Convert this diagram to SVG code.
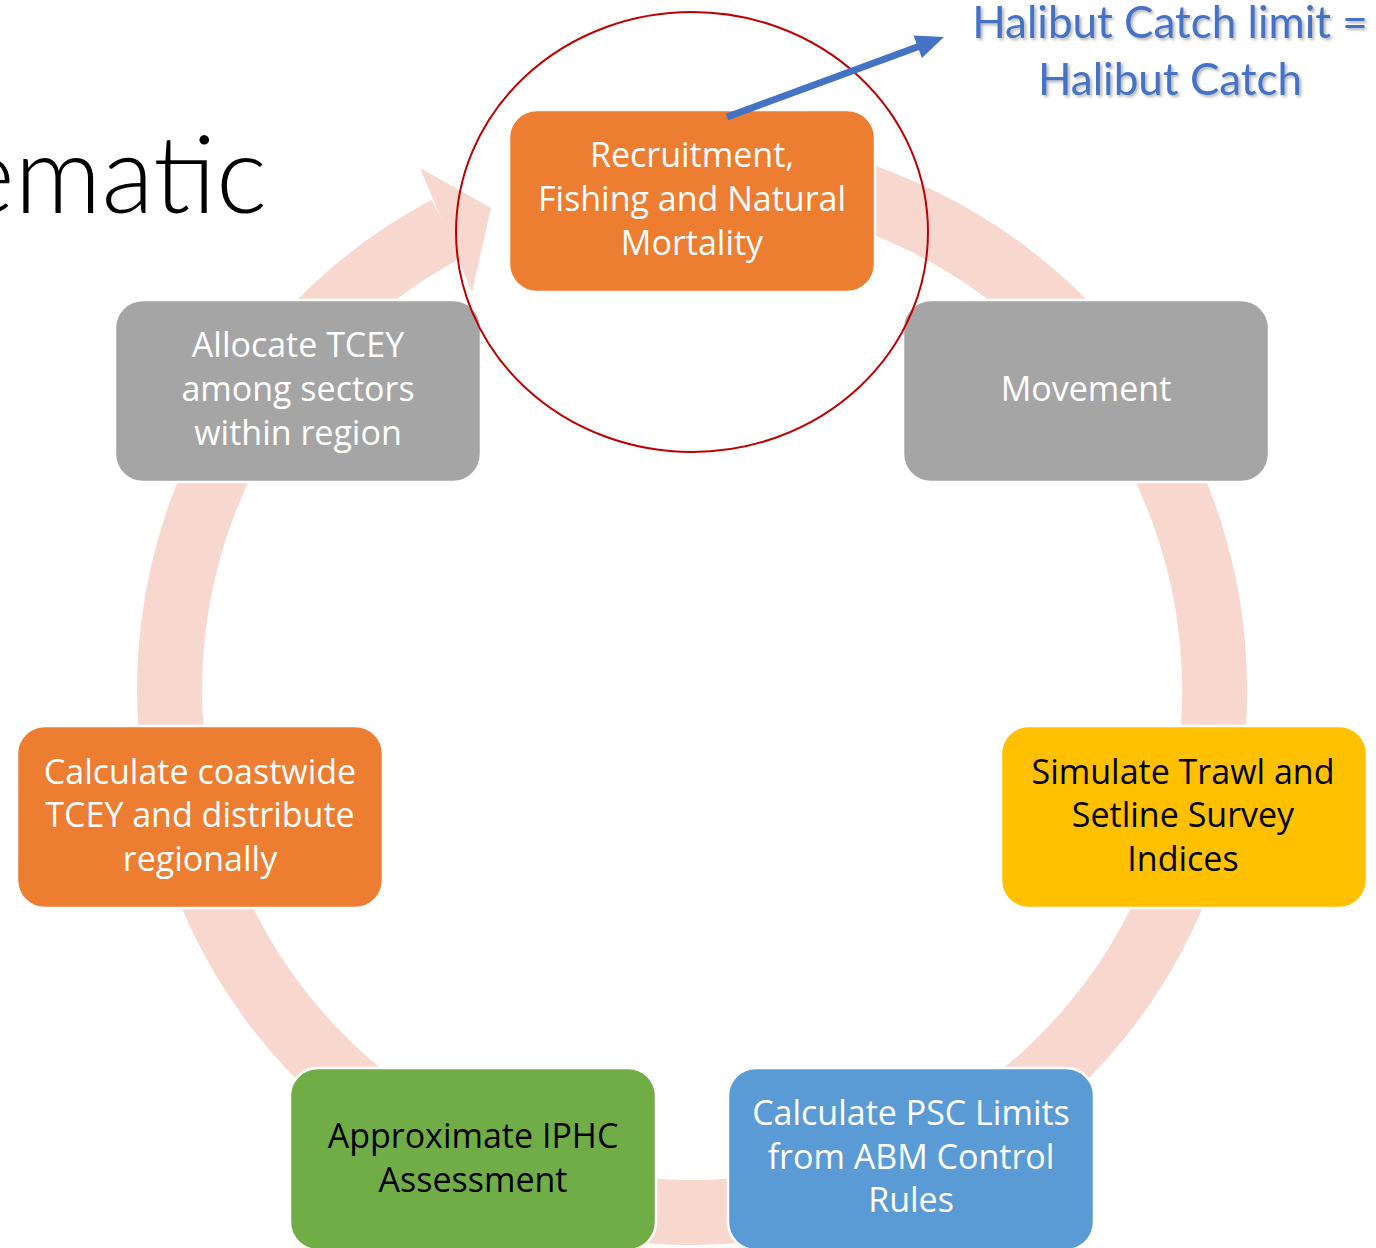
<svg xmlns="http://www.w3.org/2000/svg" width="1376" height="1248" viewBox="0 0 1376 1248">
<defs>
<style>
.node{stroke:#ffffff;stroke-width:2.5}
.t{font-family:"Open Sans","Noto Sans","Liberation Sans",sans-serif;font-size:34px;text-anchor:middle}
.w{fill:#ffffff}
.k{fill:#000000}
.callout{font-family:Lato,"Open Sans","Liberation Sans",sans-serif;font-size:44px;fill:#4472C4;text-anchor:middle}
</style>
<filter id="sh" x="-10%" y="-30%" width="120%" height="160%">
<feDropShadow dx="2" dy="2" stdDeviation="1.5" flood-color="#000" flood-opacity="0.3"/>
</filter>
</defs>
<rect width="1376" height="1248" fill="#ffffff"/>
<text x="267" y="213" font-family="Lato,'Open Sans','Liberation Sans',sans-serif" font-weight="300" font-size="108" text-anchor="end" fill="#000">ematic</text>
<g id="connectors">
<path d="M 692 167.5 A 522.5 522.5 0 1 1 446.7 228.7" fill="none" stroke="#F8D8CE" stroke-width="65"/>
<polygon points="420,168 491,208 472,292" fill="#F8D8CE"/>
</g>
<g id="node-recruitment">
<rect class="node" x="509" y="110" width="366" height="182" rx="28" fill="#ED7D31"/>
<text class="t w" x="692" y="167">Recruitment,</text>
<text class="t w" x="692" y="211">Fishing and Natural</text>
<text class="t w" x="692" y="255">Mortality</text>
</g>
<g id="node-movement">
<rect class="node" x="903" y="300" width="366" height="182" rx="28" fill="#A5A5A5"/>
<text class="t w" x="1086" y="401">Movement</text>
</g>
<g id="node-simulate">
<rect class="node" x="1001" y="726" width="366" height="182" rx="28" fill="#FFC000"/>
<text class="t k" x="1183" y="784">Simulate Trawl and</text>
<text class="t k" x="1183" y="827">Setline Survey</text>
<text class="t k" x="1183" y="871">Indices</text>
</g>
<g id="node-psc">
<rect class="node" x="728" y="1068" width="366" height="182" rx="28" fill="#5B9BD5"/>
<text class="t w" x="911" y="1125">Calculate PSC Limits</text>
<text class="t w" x="911" y="1169">from ABM Control</text>
<text class="t w" x="911" y="1212">Rules</text>
</g>
<g id="node-iphc">
<rect class="node" x="290" y="1068" width="366" height="182" rx="28" fill="#70AD47"/>
<text class="t k" x="473" y="1148">Approximate IPHC</text>
<text class="t k" x="473" y="1192">Assessment</text>
</g>
<g id="node-coastwide">
<rect class="node" x="17" y="726" width="366" height="182" rx="28" fill="#ED7D31"/>
<text class="t w" x="200" y="784">Calculate coastwide</text>
<text class="t w" x="200" y="827">TCEY and distribute</text>
<text class="t w" x="200" y="871">regionally</text>
</g>
<g id="node-allocate">
<rect class="node" x="115" y="300" width="366" height="182" rx="28" fill="#A5A5A5"/>
<text class="t w" x="298" y="357">Allocate TCEY</text>
<text class="t w" x="298" y="401">among sectors</text>
<text class="t w" x="298" y="445">within region</text>
</g>
<ellipse cx="692" cy="232" rx="236" ry="220" fill="none" stroke="#C00000" stroke-width="2"/>
<g id="callout-arrow">
<line x1="727" y1="117" x2="920" y2="46" stroke="#4472C4" stroke-width="7"/>
<polygon points="944,37 921.9,58 913.5,35.4" fill="#4472C4"/>
</g>
<g id="callout" filter="url(#sh)">
<text class="callout" x="1170" y="38">Halibut Catch limit =</text>
<text class="callout" x="1170" y="95">Halibut Catch</text>
</g>
</svg>
